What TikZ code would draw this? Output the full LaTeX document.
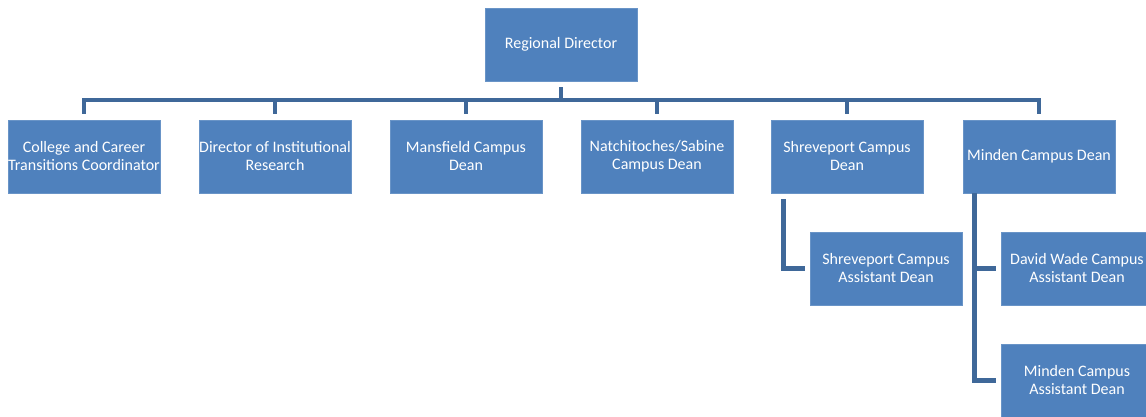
\documentclass[tikz,border=0pt]{standalone}
\usepackage{fontspec}
\setmainfont{Carlito}
\usetikzlibrary{calc}
\definecolor{unitblue}{HTML}{4F81BD}
\definecolor{linkblue}{HTML}{3F6899}
\tikzset{
	unit/.style={fill=unitblue, draw=unitblue!85!white, line width=0.5pt, text=white, minimum width=114pt, minimum height=54.75pt, inner sep=0pt, align=center, font=\fontsize{12}{13.5}\selectfont},
	link/.style={draw=linkblue, line width=3.6pt}
}

\begin{document}
\begin{tikzpicture}[x=0.75pt, y=-0.75pt]
		%%%%% START %%%%%
		\useasboundingbox (0, 0) rectangle (1146, 417);
		
		\node[unit] (rd) at (561, 44.5) {Regional Director};
		
		\node[unit] (ccc) at (84, 156.5) {College and Career\\Transitions Coordinator};
		\node[unit] (dir) at (275, 156.5) {Director of Institutional\\Research};
		\node[unit] (man) at (466, 156.5) {Mansfield Campus\\Dean};
		\node[unit] (nat) at (657, 156.5) {Natchitoches/Sabine\\Campus Dean};
		\node[unit] (shv) at (847, 156.5) {Shreveport Campus\\Dean};
		\node[unit] (min) at (1039, 156.5) {Minden Campus Dean};
		
		\node[unit] (sad) at (886, 268.5) {Shreveport Campus\\Assistant Dean};
		\node[unit] (dwd) at (1077, 268.5) {David Wade Campus\\Assistant Dean};
		\node[unit] (mad) at (1077, 380.5) {Minden Campus\\Assistant Dean};
		
		% top level
		\coordinate (bar) at (561, 100);
		\draw[link] ($(rd.south)+(0,6)$) -- (bar);
		\foreach \n in {ccc,dir,man,nat,shv,min}
			\draw[link] ($(\n.north)+(0,-6)$) |- (bar);
		
		% assistant deans
		\draw[link] ($(shv.south west)+(13,6)$) |- ($(sad.west)+(-5,0)$);
		\draw[link] ($(min.south west)+(12,6)$) |- ($(mad.west)+(-5,0)$);
		\draw[link] ($(min.south west)+(12,0)$) |- ($(dwd.west)+(-5,0)$);
		
		%%%%% END %%%%%
	\end{tikzpicture}
\end{document}
